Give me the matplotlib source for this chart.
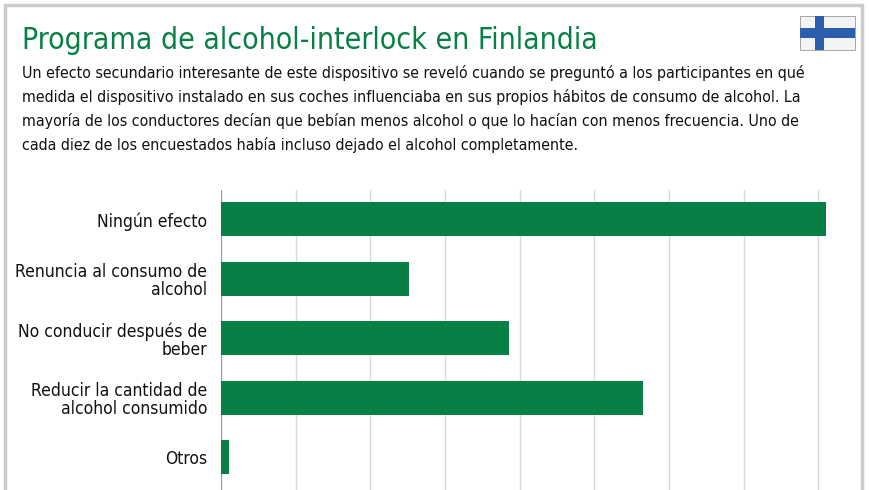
import matplotlib.pyplot as plt
from matplotlib.patches import Rectangle

categories = ['Ningún efecto', 'Renuncia al consumo de\nalcohol', 'No conducir después de\nbeber',
              'Reducir la cantidad de\nalcohol consumido', 'Otros']
values = [8.11, 2.52, 3.86, 5.65, 0.11]
green = '#068045'

fig = plt.figure(figsize=(8.7, 4.9), dpi=100)
fig.patch.set_facecolor('white')
# outer border
fig.add_artist(Rectangle((0.006, -0.01), 0.985, 1.0, transform=fig.transFigure,
                         fill=False, edgecolor='#cccccc', lw=2.5))

fig.text(0.025, 0.918, 'Programa de alcohol-interlock en Finlandia', color=green,
         fontsize=21.6, fontstretch='condensed', va='center')
body = ('Un efecto secundario interesante de este dispositivo se reveló cuando se preguntó a los participantes en qué\n'
        'medida el dispositivo instalado en sus coches influenciaba en sus propios hábitos de consumo de alcohol. La\n'
        'mayoría de los conductores decían que bebían menos alcohol o que lo hacían con menos frecuencia. Uno de\n'
        'cada diez de los encuestados había incluso dejado el alcohol completamente.')
fig.text(0.025, 0.868, body, fontsize=11.4, fontstretch='condensed', va='top', linespacing=1.62, color='#111111')

# flag
fa = fig.add_axes([0.918, 0.895, 0.066, 0.075])
fa.add_patch(Rectangle((0, 0), 18, 11, facecolor='#f4f4f4', edgecolor='#999999', lw=0.6))
fa.add_patch(Rectangle((5, 0), 3, 11, facecolor='#2b5fae', lw=0))
fa.add_patch(Rectangle((0, 4), 18, 3, facecolor='#2b5fae', lw=0))
fa.set_xlim(-0.5, 18.5)
fa.set_ylim(-0.5, 11.5)
fa.axis('off')

ax = fig.add_axes([0.254, 0.0, 0.72, 0.612])
y = list(range(len(categories)))
ax.barh(y, values, height=0.57, color=green, zorder=3)
ax.set_yticks(y)
ax.set_yticklabels(categories, fontsize=12.5, fontstretch='condensed', linespacing=1.05, color='#111111')
ax.set_ylim(4.55, -0.49)
ax.set_xlim(0, 8.39)
ax.set_xticks(range(9))
ax.set_xticklabels([])
ax.tick_params(axis='both', length=0, pad=10)
ax.grid(axis='x', color='#d9d9d9', lw=1, zorder=0)
for s in ['top', 'right', 'bottom']:
    ax.spines[s].set_visible(False)
ax.spines['left'].set_color('#999999')

fig.savefig('out.png', dpi=100)
